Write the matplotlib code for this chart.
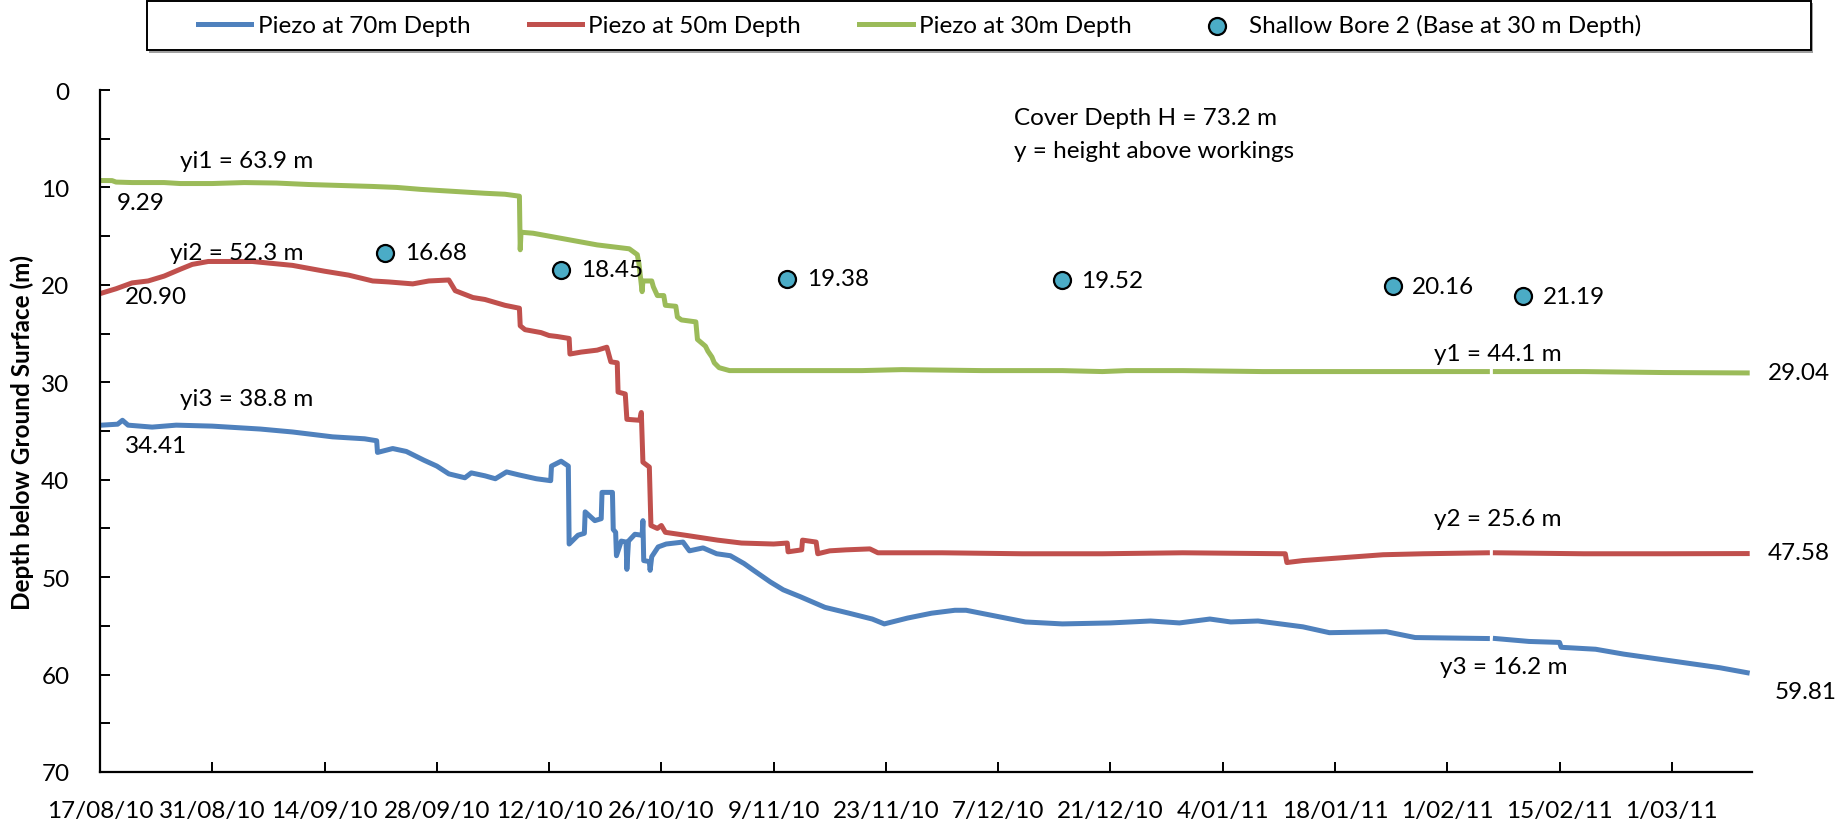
import numpy as np
import pandas as pd
import matplotlib
matplotlib.use("Agg")
import matplotlib.pyplot as plt
import matplotlib.dates as mdates
from matplotlib.patches import Rectangle
from matplotlib.ticker import MultipleLocator, FuncFormatter

plt.rcParams['font.family'] = ['Lato', 'DejaVu Sans']

start = pd.Timestamp("2010-08-17")

# piezometer readings: days since 17/08/10 and depth below ground (m)
# repeated days are the sudden jumps in the record, nan is the logger gap
p70_day = [0, 2.2, 2.8, 3.5, 6.5, 9.5, 14, 20, 24, 29, 33, 34.5, 34.6, 36.5, 38.2,
           40.4, 42, 43.5, 45.5, 46.3, 48, 49.3, 50.7, 52.2, 54.4, 56.2, 56.3, 57.5,
           58.4, 58.5, 59.6, 60.4, 60.5, 61.7, 62.5, 62.6, 63.9, 64.0, 64.3, 64.4,
           65.0, 65.6, 65.7, 65.9, 66.7, 67.6, 67.7, 67.8, 68.5, 68.6, 68.8, 69.6,
           70.6, 72.7, 73.5, 75.2, 76.9, 78.6, 80.3, 81.5, 83.6, 85.2, 87.3, 90.4,
           93.4, 96.3, 97.8, 100.7, 103.7, 106.6, 108, 115.4, 120, 126, 131, 134.6,
           138.4, 141, 144.4, 150, 153.3, 160.4, 164, 173, 173.3, 174, 178.2, 182,
           182.2, 186.5, 190, 196, 202, 205.4]
p70_depth = [34.41, 34.3, 33.9, 34.4, 34.6, 34.4, 34.5, 34.8, 35.1, 35.6, 35.8, 36.0,
             37.2, 36.8, 37.1, 38.0, 38.6, 39.4, 39.8, 39.3, 39.6, 39.9, 39.2, 39.5,
             39.9, 40.1, 38.6, 38.1, 38.6, 46.6, 45.7, 45.5, 43.3, 44.2, 44.0, 41.3,
             41.3, 45.1, 45.4, 47.8, 46.3, 46.4, 49.2, 46.3, 45.6, 45.7, 44.2, 48.3,
             48.4, 49.3, 47.9, 46.9, 46.6, 46.4, 47.3, 47.0, 47.6, 47.8, 48.6, 49.3,
             50.5, 51.3, 52.0, 53.1, 53.7, 54.3, 54.8, 54.2, 53.7, 53.4, 53.4, 54.6,
             54.8, 54.7, 54.5, 54.7, 54.3, 54.6, 54.5, 55.1, 55.7, 55.6, 56.2, 56.3,
             np.nan, 56.3, 56.6, 56.7, 57.2, 57.4, 57.9, 58.6, 59.3, 59.81]

p50_day = [0, 2, 4, 6, 8, 10, 11.5, 13.5, 19, 24, 28, 31, 34, 36, 39, 41, 43.5, 44.3,
           46.5, 48, 50.5, 52.3, 52.4, 53, 55, 56, 57, 58.5, 58.6, 60, 62, 63.2, 63.7,
           64.5, 64.6, 65.5, 65.7, 67.3, 67.5, 67.7, 68.5, 68.7, 69.5, 70, 70.5, 73,
           77, 80, 84, 85.7, 85.8, 87.5, 87.6, 89.3, 89.5, 91, 93, 96, 97, 105, 115,
           125, 135, 147.8, 148, 150, 155, 160, 165, 173, 173.3, 174, 185, 195, 205.4]
p50_depth = [20.90, 20.4, 19.8, 19.6, 19.1, 18.4, 17.9, 17.6, 17.6, 18.0, 18.6, 19.0,
             19.6, 19.7, 19.9, 19.6, 19.5, 20.6, 21.3, 21.5, 22.1, 22.4, 24.2, 24.6,
             24.9, 25.2, 25.3, 25.5, 27.1, 26.9, 26.7, 26.4, 27.9, 28.0, 31.0, 31.2,
             33.8, 33.9, 33.1, 38.2, 38.7, 44.7, 45.0, 44.7, 45.4, 45.7, 46.2, 46.5,
             46.6, 46.5, 47.4, 47.2, 46.2, 46.4, 47.6, 47.3, 47.2, 47.1, 47.5, 47.5,
             47.6, 47.6, 47.5, 47.6, 48.5, 48.3, 48.0, 47.7, 47.6, 47.5, np.nan, 47.5,
             47.6, 47.6, 47.58]

p30_day = [0, 1.5, 2, 4, 8, 10, 14, 18, 22, 26, 30, 34, 37, 40, 44, 48, 50.5, 52.3,
           52.4, 52.5, 54, 56, 58, 60, 62, 64, 66, 67, 67.2, 67.6, 67.7, 68.8, 69,
           69.5, 70.3, 70.5, 71.8, 72, 72.5, 74.3, 74.5, 75.5, 75.8, 76.3, 76.6, 77.2,
           78.5, 85, 95, 100, 110, 120, 125, 128, 135, 145, 155, 165, 173, 173.3, 174,
           185, 195, 205.4]
p30_depth = [9.29, 9.3, 9.45, 9.5, 9.5, 9.6, 9.6, 9.5, 9.55, 9.7, 9.8, 9.9, 10.0,
             10.2, 10.4, 10.6, 10.7, 10.9, 16.4, 14.6, 14.7, 15.0, 15.3, 15.6, 15.9,
             16.1, 16.3, 16.9, 17.8, 20.7, 19.6, 19.6, 20.2, 21.1, 21.1, 22.1, 22.2,
             23.3, 23.6, 23.8, 25.6, 26.3, 26.8, 27.4, 28.0, 28.5, 28.8, 28.8, 28.8,
             28.7, 28.8, 28.8, 28.9, 28.8, 28.8, 28.9, 28.9, 28.9, 28.9, np.nan, 28.9,
             28.9, 29.0, 29.04]

# shallow bore 2 dips
bore_day = [35.6, 57.5, 85.7, 119.9, 161.2, 177.5]
bore_depth = [16.68, 18.45, 19.38, 19.52, 20.16, 21.19]


def to_dates(days):
    return start + pd.to_timedelta(np.array(days), unit="D")


fig = plt.figure(figsize=(18.48, 8.29), dpi=100)
ax = fig.add_axes([100 / 1848, 56 / 829, 1652 / 1848, 682 / 829])

blue, red, green, cyan = "#4F81BD", "#C0504D", "#9BBB59", "#4BACC6"
lw = 3.6
ax.plot(to_dates(p70_day), p70_depth, color=blue, lw=lw, label="Piezo at 70m Depth")
ax.plot(to_dates(p50_day), p50_depth, color=red, lw=lw, label="Piezo at 50m Depth")
ax.plot(to_dates(p30_day), p30_depth, color=green, lw=lw, label="Piezo at 30m Depth")
ax.scatter(to_dates(bore_day), bore_depth, s=150, color=cyan, edgecolor="black",
           linewidth=1.6, zorder=5, label="Shallow Bore 2 (Base at 30 m Depth)")

fs = 17.5
for d, v in zip(bore_day, bore_depth):
    ax.annotate(f"{v:.2f}", (to_dates([d])[0], v), xytext=(14, 0),
                textcoords="offset points", va="center", fontsize=fs)

# start and end values of each piezometer
def note(day, depth, text, ha="center"):
    ax.text(to_dates([day])[0], depth, text, fontsize=fs, ha=ha, va="center", clip_on=False)

note(5.1, 11.5, "9.29")
note(7.0, 21.2, "20.90")
note(7.0, 36.5, "34.41")
note(18.3, 7.2, "yi1 = 63.9 m")
note(17.0, 16.7, "yi2 = 52.3 m")
note(18.3, 31.7, "yi3 = 38.8 m")
note(174.3, 27.0, "y1 = 44.1 m")
note(174.3, 44.0, "y2 = 25.6 m")
note(175.0, 59.2, "y3 = 16.2 m")
note(208.0, 29.0, "29.04", ha="left")
note(208.0, 47.5, "47.58", ha="left")
note(208.8, 61.7, "59.81", ha="left")
note(114.0, 2.8, "Cover Depth H = 73.2 m", ha="left")
note(114.0, 6.2, "y = height above workings", ha="left")

ax.set_ylim(70, 0)
ax.set_xlim(start, start + pd.Timedelta(days=206))
ax.yaxis.set_major_locator(MultipleLocator(10))
ax.yaxis.set_minor_locator(MultipleLocator(5))
ax.set_xticks(to_dates(np.arange(0, 206, 14)))
ax.xaxis.set_major_formatter(FuncFormatter(
    lambda x, pos: (lambda d: f"{d.day}/{d:%m/%y}")(mdates.num2date(x))))

for s in ["top", "right"]:
    ax.spines[s].set_visible(False)
for s in ["left", "bottom"]:
    ax.spines[s].set_linewidth(1.6)
ax.tick_params(axis="both", which="both", direction="in", length=7, width=1.4,
               labelsize=fs)
ax.tick_params(axis="y", pad=22)
ax.tick_params(axis="x", pad=20)
ax.set_ylabel("Depth below Ground Surface (m)", fontsize=17.5, fontweight="bold")
ax.yaxis.set_label_coords(-0.04, 0.5)

# legend box across the top
fig.patches.append(Rectangle((149 / 1848, 775 / 829), 1664 / 1848, 50 / 829,
                             transform=fig.transFigure, facecolor="#a0a0a0",
                             edgecolor="none", zorder=0))
fig.patches.append(Rectangle((147 / 1848, 778 / 829), 1664 / 1848, 49 / 829,
                             transform=fig.transFigure, facecolor="white",
                             edgecolor="black", linewidth=1.4, zorder=1))
leg = fig.legend(loc="center left", ncol=4, bbox_to_anchor=(198 / 1848, 803 / 829),
                 fontsize=17.5, frameon=False, handlelength=2.2, handletextpad=0.25,
                 columnspacing=2.4, borderaxespad=0, borderpad=0)

fig.savefig("out.png", dpi=100)
